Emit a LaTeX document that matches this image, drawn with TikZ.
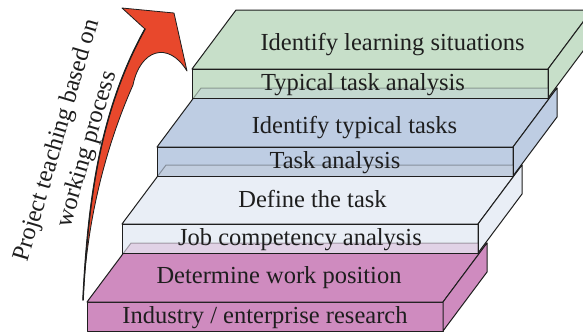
\documentclass[tikz,border=0pt]{standalone}
\usepackage{fontspec}
\setmainfont{Liberation Serif}
\definecolor{pinkc}{RGB}{207,139,191}
\definecolor{lightc}{RGB}{233,238,246}
\definecolor{bluec}{RGB}{190,205,227}
\definecolor{greenc}{RGB}{199,223,201}
\definecolor{redc}{RGB}{232,72,44}
\definecolor{inkc}{RGB}{30,30,30}
\tikzset{
  face/.style={draw=inkc, line width=1pt, line join=round},
  ghostface/.style={draw=black, line width=1pt, fill opacity=0.28, draw opacity=0.3},
  lbl/.style={font=\fontsize{24.5}{29}\selectfont, anchor=base, inner sep=0pt, text=inkc},
  sidelbl/.style={font=\fontsize{24.5}{31}\selectfont, inner sep=0pt, text=inkc, align=center, rotate=73.5},
  arrowshape/.style={fill=redc, draw=inkc, line width=0.8pt, line join=round}
}
\newcommand\myslab[3]{%
  \path[#3] (#1,#2) rectangle ++(356,29);
  \path[#3] (#1,#2) -- ++(44,-59) -- ++(356,0) -- ++(-44,59) -- cycle;
  \path[#3] (#1+356,#2) -- ++(44,-59) -- ++(0,29) -- ++(-44,59) -- cycle;
}
\newcommand\myghost[5]{%
  \begin{scope}
    \clip (#1,#2) rectangle ++(356,29);
    \myslab{#3}{#4}{ghostface, fill=#5}
  \end{scope}
  \draw[face] (#1,#2) rectangle ++(356,29);
}
\begin{document}
\begin{tikzpicture}[x=1pt,y=-1pt]
\useasboundingbox (0,0) rectangle (583,333);
\clip (0,0) rectangle (583,333);
\fill[white] (0,0) rectangle (583,333);

% curved arrow
\path[arrowshape] (83,300) .. controls (88,200) and (100,110) .. (145,29)
  -- (122,8) -- (174,13) -- (187,71)
  .. controls (168,40) and (140,50) .. (133,85)
  .. controls (122,110) and (88,190) .. (83,300) -- cycle;
\draw[inkc, line width=1.5pt, line cap=round] (83,300) .. controls (88,200) and (100,110) .. (145,29);

% slabs
\myslab{87}{302}{face, fill=pinkc}
\myslab{122}{224}{face, fill=lightc}
\myghost{122}{224}{87}{302}{pinkc}
\myslab{157}{147}{face, fill=bluec}
\myghost{157}{147}{122}{224}{lightc!70!black!40!lightc}
\myslab{192}{69}{face, fill=greenc}
\myghost{192}{69}{157}{147}{bluec}

% labels
\node[lbl] (t1) at (265,323) {Industry / enterprise research};
\node[lbl] (t2) at (279,283) {Determine work position};
\node[lbl] (t3) at (300,245) {Job competency analysis};
\node[lbl] (t4) at (312.5,207) {Define the task};
\node[lbl] (t5) at (335,168) {Task analysis};
\node[lbl] (t6) at (354.5,133) {Identify typical tasks};
\node[lbl] (t7) at (363,90) {Typical task analysis};
\node[lbl] (t8) at (392.5,50) {Identify learning situations};

\node[sidelbl] (side) at (72.5,145) {Project teaching based on\\working process};
\end{tikzpicture}
\end{document}
